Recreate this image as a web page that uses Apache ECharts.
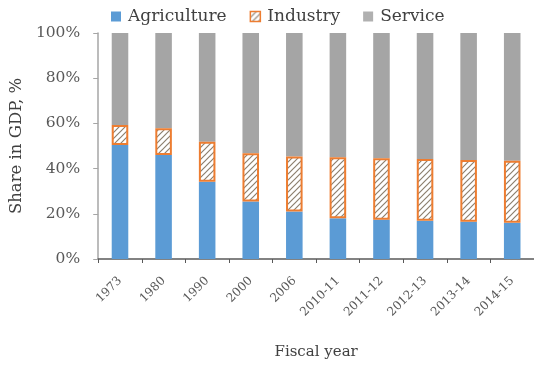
<!DOCTYPE html>
<html>
<head>
<meta charset="utf-8">
<script src="https://cdn.jsdelivr.net/npm/echarts@6/dist/echarts.min.js"></script>
<style>
  html, body { margin: 0; padding: 0; background: #fff; }
  #chart { width: 534px; height: 365px; }
</style>
</head>
<body>
<div id="chart"></div>
<script>
// Sectoral shares of GDP by fiscal year (%)
const years = ['1973', '1980', '1990', '2000', '2006', '2010-11', '2011-12', '2012-13', '2013-14', '2014-15'];
const agriculture = [50.4, 46.0, 34.2, 25.4, 21.0, 18.0, 17.4, 16.9, 16.5, 16.0];
const industry = [8.9, 11.8, 17.7, 21.4, 24.3, 27.0, 27.2, 27.3, 27.3, 27.5];
const service = [40.7, 42.2, 48.1, 53.2, 54.7, 55.0, 55.4, 55.8, 56.2, 56.5];
const yTicks = [0, 20, 40, 60, 80, 100];

// Diagonal hatch fill used for the industry segment
function hatchPattern() {
  const s = 6;
  const c = document.createElement('canvas');
  c.width = s; c.height = s;
  const g = c.getContext('2d');
  g.fillStyle = '#ffffff';
  g.fillRect(0, 0, s, s);
  g.strokeStyle = '#8c7f6e';
  g.lineWidth = 1.2;
  g.beginPath();
  g.moveTo(0, s); g.lineTo(s, 0);
  g.moveTo(-s / 2, s / 2); g.lineTo(s / 2, -s / 2);
  g.moveTo(s / 2, s * 1.5); g.lineTo(s * 1.5, s / 2);
  g.stroke();
  return c;
}

const font = 'DejaVu Serif';
const hatch = { image: hatchPattern(), repeat: 'repeat' };
const chart = echarts.init(document.getElementById('chart'), null, { renderer: 'canvas' });

chart.setOption({
  animation: false,
  backgroundColor: '#ffffff',
  legend: {
    top: 3,
    left: 106,
    itemWidth: 10,
    itemHeight: 10,
    itemGap: 23,
    icon: 'rect',
    textStyle: { fontFamily: font, fontSize: 17, color: '#404040', padding: [0, 0, 0, 2] },
    data: [
      { name: 'Agriculture' },
      { name: 'Industry', itemStyle: { color: hatch, borderColor: '#ed7d31', borderWidth: 1.5 } },
      { name: 'Service', itemStyle: { color: '#b0b0b0' } }
    ]
  },
  grid: { left: 97, right: 0, top: 33, bottom: 106 },
  xAxis: {
    type: 'category',
    data: years,
    name: 'Fiscal year',
    nameLocation: 'middle',
    nameGap: 86,
    nameTextStyle: { fontFamily: font, fontSize: 15, color: '#404040' },
    axisLine: { lineStyle: { color: '#595959', width: 1.5 } },
    axisTick: { show: true, alignWithLabel: false, length: 4, lineStyle: { color: '#595959' } },
    axisLabel: { rotate: 45, fontFamily: font, fontSize: 12, color: '#595959', margin: 20, interval: 0 }
  },
  yAxis: {
    type: 'value',
    min: yTicks[0],
    max: yTicks[yTicks.length - 1],
    interval: 20,
    name: 'Share in GDP, %',
    nameLocation: 'middle',
    nameGap: 70,
    nameTextStyle: { fontFamily: font, fontSize: 16.5, color: '#404040' },
    axisLine: { show: true, lineStyle: { color: '#a6a6a6', width: 1.5 } },
    axisTick: { show: true, length: 5, lineStyle: { color: '#a6a6a6' } },
    splitLine: { show: false },
    axisLabel: { fontFamily: font, fontSize: 15.5, color: '#595959', margin: 18, formatter: v => v + '%' }
  },
  series: [
    {
      name: 'Agriculture', type: 'bar', stack: 'gdp', barWidth: '38%',
      data: agriculture,
      itemStyle: { color: '#5b9bd5' }
    },
    {
      name: 'Industry', type: 'bar', stack: 'gdp', barWidth: '38%',
      data: industry,
      z: 3,
      itemStyle: {
        color: hatch,
        borderColor: '#ed7d31',
        borderWidth: 2
      }
    },
    {
      name: 'Service', type: 'bar', stack: 'gdp', barWidth: '38%',
      data: service,
      itemStyle: { color: '#a5a5a5' }
    }
  ]
});
</script>
</body>
</html>
